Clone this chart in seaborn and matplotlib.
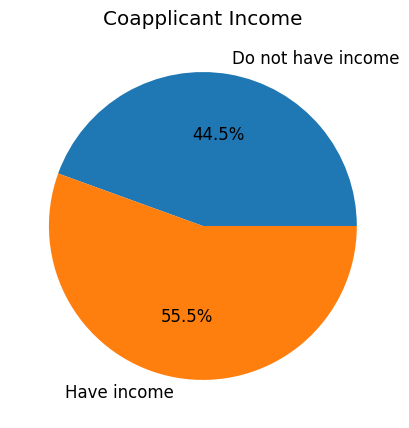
import matplotlib
matplotlib.use("Agg")
import matplotlib.pyplot as plt
import seaborn as sns

labels = ["Do not have income", "Have income"]
counts = [273, 341]

plt.rcParams["font.size"] = 12
colors = sns.color_palette("tab10", 2)

fig = plt.figure(figsize=(4.09, 4.28), dpi=100)
ax = fig.add_axes([0.0255, 0.022, 0.941, 0.9])
ax.pie(counts, labels=labels, colors=colors, autopct="%1.1f%%")
ax.set_title("Coapplicant Income")
fig.savefig("out.png", dpi=100)
plt.close()
